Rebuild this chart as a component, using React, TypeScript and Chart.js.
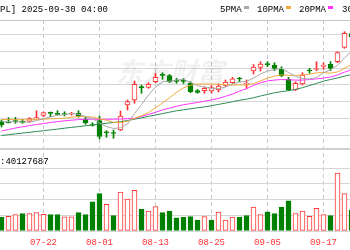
import React, { useEffect, useRef } from 'react';
import { Chart, registerables } from 'chart.js';

Chart.register(...registerables);

const dates = [
  '07-14', '07-15', '07-16', '07-17', '07-18', '07-21', '07-22', '07-23', '07-24', '07-25',
  '07-28', '07-29', '07-30', '07-31', '08-01', '08-04', '08-05', '08-06', '08-07', '08-08',
  '08-11', '08-12', '08-13', '08-14', '08-15', '08-18', '08-19', '08-20', '08-21', '08-22',
  '08-25', '08-26', '08-27', '08-28', '08-29', '09-02', '09-03', '09-04', '09-05', '09-08',
  '09-09', '09-10', '09-11', '09-12', '09-15', '09-16', '09-17', '09-18', '09-19', '09-22',
  '09-23',
];
const tickDates = ['07-22', '08-01', '08-13', '08-25', '09-05', '09-17'];

const opens = [
  208.1, 207.62, 208.4, 207.98, 208.22, 209.6, 211.82, 213.62, 212.72, 212.6,
  212.6, 213.02, 209.6, 206.3, 208.7, 201.8, 201.2, 203.0, 218.0, 221.0,
  229.1, 228.62, 231.98, 236.24, 235.58, 232.64, 232.52, 231.02, 226.7, 226.58,
  226.4, 227.0, 229.7, 231.38, 233.9, 230.6, 238.4, 240.5, 242.6, 242.0,
  239.42, 233.42, 227.0, 230.6, 238.76, 239.3, 241.22, 242.42, 243.98, 252.62,
  260.9,
];
const highs = [
  209.0, 210.38, 210.62, 209.42, 210.38, 214.58, 213.8, 213.8, 214.58, 213.98,
  213.62, 214.58, 210.62, 207.38, 211.4, 202.58, 203.0, 214.4, 221.0, 232.4,
  230.0, 231.38, 237.02, 237.38, 236.42, 234.02, 233.9, 231.98, 227.3, 228.98,
  229.7, 230.6, 233.0, 234.62, 234.62, 233.0, 242.3, 243.98, 243.98, 243.38,
  240.98, 234.62, 231.98, 237.38, 240.02, 243.98, 243.38, 243.98, 249.98, 261.98,
  262.4,
];
const lows = [
  204.8, 207.2, 207.02, 207.02, 207.62, 209.42, 210.98, 210.98, 212.24, 211.4,
  211.82, 210.62, 206.42, 205.4, 197.6, 198.62, 198.02, 202.58, 215.0, 219.02,
  225.02, 228.02, 231.38, 233.42, 231.38, 231.02, 230.9, 225.38, 225.02, 225.02,
  225.2, 225.8, 229.1, 231.02, 232.0, 227.9, 236.6, 238.4, 240.98, 238.58,
  234.98, 226.58, 226.58, 230.0, 237.02, 238.58, 239.42, 238.58, 243.38, 252.02,
  257.0,
];
const closes = [
  206.0, 207.32, 208.04, 207.62, 209.78, 210.38, 213.38, 213.02, 212.42, 212.3,
  212.9, 211.1, 207.2, 205.7, 199.1, 201.32, 200.9, 211.4, 219.98, 230.42,
  228.2, 230.42, 234.62, 235.82, 231.98, 232.22, 232.16, 225.98, 225.5, 228.02,
  228.5, 229.4, 231.8, 233.72, 233.6, 230.9, 240.8, 242.6, 242.24, 240.02,
  235.58, 227.0, 231.02, 236.0, 238.4, 239.72, 241.58, 240.02, 249.38, 261.02,
  258.8,
];
const volumes = [
  39.6, 41.6, 46.7, 49.5, 49.5, 51.8, 47.3, 46.7, 46.7, 40.2,
  40.2, 51.8, 46.7, 82.9, 105.6, 75.6, 43.9, 110.4, 90.6, 115.2,
  61.4, 56.6, 68.8, 51.8, 56.6, 37.4, 38.8, 40.5, 31.1, 40.5,
  31.1, 53.8, 31.1, 39.6, 39.6, 43.9, 67.4, 46.7, 54.6, 49.5,
  67.4, 85.5, 49.5, 56.6, 41.6, 64.5, 46.7, 43.9, 163.6, 105.6,
  59.4,
];
const volumeDir = [
  'd', 'u', 'u', 'd', 'u', 'u', 'u', 'd', 'd', 'u',
  'u', 'd', 'd', 'd', 'd', 'u', 'd', 'u', 'u', 'u',
  'd', 'u', 'u', 'd', 'd', 'd', 'd', 'd', 'd', 'u',
  'd', 'u', 'u', 'u', 'd', 'd', 'u', 'u', 'd', 'd',
  'd', 'd', 'u', 'u', 'u', 'u', 'u', 'd', 'u', 'u',
  'd',
];
const ma5 = [
  208.1, 207.92, 207.92, 207.8, 207.74, 208.64, 209.84, 210.86, 211.82, 212.3,
  212.78, 212.36, 211.16, 209.84, 207.2, 205.1, 203.9, 204.32, 206.66, 212.9,
  218.24, 224.06, 228.74, 231.92, 232.22, 233.0, 233.36, 231.62, 229.58, 228.8,
  228.02, 227.9, 228.8, 230.6, 231.8, 232.1, 234.2, 236.6, 238.4, 239.3,
  239.9, 237.5, 235.16, 233.9, 233.6, 234.44, 237.32, 239.12, 241.82, 246.32,
  250.16,
];
const ma10 = [
  209.3, 209.3, 209.24, 209.12, 209.12, 209.24, 209.48, 209.72, 209.9, 210.02,
  210.68, 211.1, 210.98, 210.8, 209.72, 208.88, 207.62, 207.5, 208.22, 210.02,
  211.58, 213.5, 216.26, 219.26, 222.32, 225.62, 228.32, 229.88, 230.6, 230.48,
  230.54, 230.42, 230.12, 229.94, 230.12, 229.94, 230.84, 232.46, 234.14, 235.34,
  236.06, 235.82, 235.76, 236.0, 236.48, 237.32, 237.44, 237.14, 237.86, 239.96,
  242.3,
];
const ma20 = [
  202.4, 203.3, 204.2, 204.92, 205.64, 206.3, 206.9, 207.5, 208.04, 208.52,
  208.88, 209.24, 209.42, 209.48, 209.42, 209.42, 209.48, 209.6, 209.78, 210.02,
  211.16, 212.3, 213.62, 215.06, 216.14, 217.22, 218.18, 218.84, 219.5, 220.28,
  221.06, 221.96, 223.22, 224.6, 226.34, 227.78, 229.76, 231.32, 232.46, 232.94,
  233.3, 233.12, 232.94, 232.94, 233.3, 233.66, 234.14, 234.8, 236.0, 237.68,
  239.18,
];
const ma30 = [
  199.7, 200.18, 200.66, 201.14, 201.62, 202.1, 202.58, 203.06, 203.54, 204.08,
  204.56, 205.04, 205.52, 206.06, 206.54, 207.02, 207.5, 207.98, 208.7, 209.48,
  210.32, 211.16, 212.0, 212.84, 213.68, 214.52, 215.12, 215.72, 216.32, 216.86,
  217.58, 218.36, 219.14, 219.98, 220.82, 221.48, 222.38, 223.4, 224.36, 225.32,
  226.04, 226.58, 227.36, 228.38, 229.7, 230.96, 232.34, 233.3, 234.26, 235.28,
  236.3,
];

const titleText = '[AAPL] 2025-09-30 04:00';
const legendLabels = ['5PMA', '10PMA', '20PMA', '30PMA'];
const volumeText = ':40127687';
const watermarkText = '东方财富';
const priceGrid = [200, 210, 220, 230, 240, 250, 260];
const volumeGrid = [0, 44.57, 89.14, 133.71, 178.28];

export default function App() {
  const ref = useRef<HTMLCanvasElement | null>(null);

  useEffect(() => {
    document.body.style.margin = '0';
    const canvas = ref.current;
    if (!canvas) return;

    const RED = '#ff3333';
    const GREEN = '#008000';
    const lineColors = ['#a8a8a8', '#f2a93b', '#ff33ff', '#2e8b57'];
    const FONT = '9px "Liberation Mono", monospace';
    const up = closes.map((c, i) => c >= opens[i]);
    const pts = (arr: number[]) => arr.map((v, i) => ({ x: i, y: v }));

    const overlay = {
      id: 'overlay',
      beforeDatasetsDraw(chart: any) {
        const { ctx, chartArea } = chart;
        ctx.save();
        ctx.font = 'italic bold 27px "Noto Sans CJK SC"';
        ctx.fillStyle = 'rgba(0,0,0,0.055)';
        ctx.textBaseline = 'alphabetic';
        ctx.textAlign = 'left';
        ctx.fillText(watermarkText, 116, 82);
        ctx.fillStyle = '#c4c4c4';
        ctx.fillRect(0, chartArea.top, chart.width, 1);
        ctx.fillStyle = '#d0d0d0';
        ctx.fillRect(0, 148, chart.width, 2);
        ctx.restore();
      },
      afterDraw(chart: any) {
        const { ctx } = chart;
        ctx.save();
        ctx.font = FONT;
        ctx.textBaseline = 'alphabetic';
        ctx.textAlign = 'left';
        ctx.fillStyle = '#000';
        ctx.fillText(titleText, -16.2, 12);
        const lx = [220, 257, 299, 342];
        legendLabels.forEach((t, i) => {
          ctx.fillStyle = '#000';
          ctx.fillText(t, lx[i], 12);
          const w = ctx.measureText(t).width;
          ctx.fillStyle = lineColors[i];
          ctx.fillRect(Math.round(lx[i] + w + 2), 6, 5, 3);
        });
        ctx.fillStyle = '#000';
        ctx.fillText(volumeText, 0, 163.5);
        ctx.restore();
      },
    };

    const chart = new Chart(canvas, {
      type: 'bar',
      data: {
        datasets: [
          ...[ma5, ma10, ma20, ma30].map((arr, k) => ({
            type: 'line' as const,
            label: legendLabels[k],
            data: pts(arr),
            borderColor: lineColors[k],
            borderWidth: 1,
            pointRadius: 0,
            tension: 0,
            fill: false,
            xAxisID: 'x',
            yAxisID: 'y',
            order: 0,
          })),
          {
            type: 'bar' as const,
            label: 'body',
            data: dates.map((_, i) => ({ x: i, y: [opens[i], closes[i]] })),
            backgroundColor: up.map((u) => (u ? '#ffffff' : GREEN)),
            borderColor: up.map((u) => (u ? RED : GREEN)),
            borderWidth: 1,
            borderSkipped: false,
            barThickness: 5,
            minBarLength: 1,
            grouped: false,
            xAxisID: 'x',
            yAxisID: 'y',
            order: 1,
          },
          {
            type: 'bar' as const,
            label: 'wick',
            data: dates.map((_, i) => ({ x: i, y: [lows[i], highs[i]] })),
            backgroundColor: up.map((u) => (u ? RED : GREEN)),
            borderWidth: 0,
            barThickness: 1,
            grouped: false,
            xAxisID: 'x',
            yAxisID: 'y',
            order: 2,
          },
          {
            type: 'bar' as const,
            label: 'volume',
            data: volumes.map((v, i) => ({ x: i, y: v })),
            backgroundColor: volumeDir.map((d) => (d === 'u' ? '#ffffff' : GREEN)),
            borderColor: volumeDir.map((d) => (d === 'u' ? RED : GREEN)),
            borderWidth: 1,
            borderSkipped: false,
            barThickness: 5,
            grouped: false,
            xAxisID: 'x',
            yAxisID: 'yv',
            order: 3,
          },
        ],
      },
      options: {
        responsive: false,
        animation: false,
        devicePixelRatio: 1,
        events: [],
        layout: { padding: { top: 20, left: 0, right: 0, bottom: 1 } },
        plugins: { legend: { display: false }, tooltip: { enabled: false }, title: { display: false } },
        scales: {
          x: {
            type: 'linear',
            min: -1.5 / 7,
            max: (350 - 1.5) / 7,
            offset: false,
            afterBuildTicks: (axis: any) => {
              axis.ticks = tickDates.map((d) => ({ value: dates.indexOf(d) }));
            },
            afterFit: (axis: any) => {
              axis.height = 18;
            },
            ticks: {
              callback: (v: any) => dates[Number(v)] ?? '',
              color: RED,
              font: { family: '"Liberation Mono", monospace', size: 9 },
              padding: 6,
              autoSkip: false,
              maxRotation: 0,
              minRotation: 0,
            },
            grid: { color: '#c8c8c8', drawTicks: false, lineWidth: 1, offset: false },
            border: { display: false, dash: [4, 3] },
          },
          y: {
            type: 'linear',
            position: 'left',
            min: 142.4,
            max: 269.0,
            afterBuildTicks: (axis: any) => {
              axis.ticks = priceGrid.map((v) => ({ value: v }));
            },
            ticks: { display: false },
            grid: { color: '#d6d6d6', drawTicks: false, lineWidth: 1 },
            border: { display: false },
          },
          yv: {
            type: 'linear',
            position: 'right',
            min: 0,
            max: 597.1,
            afterBuildTicks: (axis: any) => {
              axis.ticks = volumeGrid.map((v) => ({ value: v }));
            },
            ticks: { display: false },
            grid: { color: '#d6d6d6', drawTicks: false, lineWidth: 1 },
            border: { display: false },
          },
        },
      } as any,
      plugins: [overlay],
    });

    return () => chart.destroy();
  }, []);

  return (
    <canvas
      ref={ref}
      width={350}
      height={250}
      style={{ display: 'block', width: 350, height: 250 }}
    />
  );
}
